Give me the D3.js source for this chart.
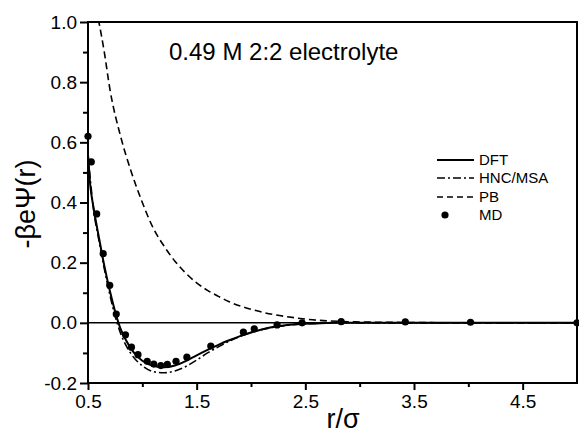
<!DOCTYPE html>
<html>
<head>
<meta charset="utf-8">
<script src="https://cdn.jsdelivr.net/npm/d3@7"></script>
<style>
  body { margin: 0; background: #fff; }
  svg { display: block; font-family: "Liberation Sans", Arial, sans-serif; }
</style>
</head>
<body>
<svg width="579" height="433"></svg>
<script>
// r/sigma grid and curves
var dftR = [0.5, 0.52, 0.55, 0.6, 0.65, 0.7, 0.75, 0.8, 0.85, 0.9, 0.95, 1.0, 1.1, 1.2, 1.3, 1.4, 1.5, 1.6, 1.7, 1.8, 1.9, 2.0, 2.1, 2.2, 2.3, 2.4, 2.6, 2.8, 3.5, 5.0];
var dftV = [0.56, 0.46, 0.385, 0.285, 0.19, 0.108, 0.037, -0.02, -0.058, -0.088, -0.11, -0.126, -0.143, -0.148, -0.142, -0.127, -0.108, -0.09, -0.073, -0.058, -0.044, -0.032, -0.022, -0.014, -0.009, -0.005, -0.002, 0, 0, 0];

var hncR = [0.5, 0.55, 0.6, 0.65, 0.7, 0.75, 0.8, 0.85, 0.9, 1.0, 1.1, 1.2, 1.3, 1.4, 1.5, 1.6, 1.7, 1.8, 1.9, 2.0, 2.2, 2.4, 2.6, 2.8, 3.0, 5.0];
var hncV = [0.56, 0.38, 0.275, 0.18, 0.095, 0.022, -0.035, -0.075, -0.105, -0.143, -0.162, -0.166, -0.16, -0.145, -0.124, -0.1, -0.08, -0.061, -0.045, -0.032, -0.015, -0.006, -0.002, 0.001, 0, 0];

var pbR = [0.595, 0.65, 0.7, 0.8, 0.9, 1.0, 1.1, 1.2, 1.3, 1.4, 1.5, 1.6, 1.7, 1.8, 2.0, 2.2, 2.4, 2.6, 2.8, 3.0, 3.5, 4.0, 5.0];
var pbV = [1.01, 0.9, 0.78, 0.62, 0.5, 0.4, 0.315, 0.255, 0.205, 0.165, 0.133, 0.108, 0.088, 0.07, 0.045, 0.028, 0.017, 0.009, 0.005, 0.003, 0.001, 0, 0];

var mdR = [0.5, 0.53, 0.58, 0.64, 0.7, 0.76, 0.845, 0.9, 0.96, 1.045, 1.105, 1.17, 1.23, 1.31, 1.41, 1.63, 1.93, 2.03, 2.24, 2.47, 2.83, 3.42, 4.02, 5.0];
var mdV = [0.62, 0.535, 0.362, 0.23, 0.125, 0.029, -0.04, -0.081, -0.106, -0.128, -0.137, -0.142, -0.138, -0.128, -0.114, -0.077, -0.031, -0.02, -0.007, 0.0, 0.004, 0.003, 0.002, 0.0];

var xMajor = [0.5, 1.5, 2.5, 3.5, 4.5];
var xMinor = [1.0, 2.0, 3.0, 4.0];
var yMajor = [-0.2, 0.0, 0.2, 0.4, 0.6, 0.8, 1.0];
var yMinor = [-0.1, 0.1, 0.3, 0.5, 0.7, 0.9];

var legendNames = ["DFT", "HNC/MSA", "PB", "MD"];

var svg = d3.select("svg");
var pLeft = 88, pRight = 577, pTop = 22, pBottom = 383;

var x = d3.scaleLinear().domain([0.5, 5.0]).range([pLeft, pRight]);
var y = d3.scaleLinear().domain([-0.2, 1.0]).range([pBottom, pTop]);

svg.append("clipPath").attr("id", "clip").append("rect")
  .attr("x", pLeft).attr("y", pTop).attr("width", pRight - pLeft).attr("height", pBottom - pTop);

var plot = svg.append("g").attr("clip-path", "url(#clip)");

// zero line
plot.append("line")
  .attr("x1", pLeft).attr("x2", pRight)
  .attr("y1", y(0)).attr("y2", y(0))
  .attr("stroke", "#000").attr("stroke-width", 1.5);

function zip(rs, vs) { return rs.map(function(r, i) { return [r, vs[i]]; }); }

var line = d3.line()
  .x(function(d) { return x(d[0]); })
  .y(function(d) { return y(d[1]); })
  .curve(d3.curveMonotoneX);

plot.append("path").datum(zip(pbR, pbV)).attr("d", line)
  .attr("fill", "none").attr("stroke", "#000").attr("stroke-width", 1.6)
  .attr("stroke-dasharray", "7,4");

plot.append("path").datum(zip(hncR, hncV)).attr("d", line)
  .attr("fill", "none").attr("stroke", "#000").attr("stroke-width", 1.6)
  .attr("stroke-dasharray", "8,3,2,3");

plot.append("path").datum(zip(dftR, dftV)).attr("d", line)
  .attr("fill", "none").attr("stroke", "#000").attr("stroke-width", 2);

svg.selectAll(".md").data(zip(mdR, mdV)).enter().append("circle")
  .attr("class", "md")
  .attr("cx", function(d) { return x(d[0]); })
  .attr("cy", function(d) { return y(d[1]); })
  .attr("r", 3.6).attr("fill", "#000");

// frame
svg.append("rect").attr("x", pLeft).attr("y", pTop)
  .attr("width", pRight - pLeft).attr("height", pBottom - pTop)
  .attr("fill", "none").attr("stroke", "#000").attr("stroke-width", 2);

// axes
svg.append("g").attr("transform", "translate(0," + pBottom + ")")
  .call(d3.axisBottom(x).tickValues(xMajor).tickSize(7).tickPadding(5)
    .tickFormat(function(d) { return d.toFixed(1); }));
svg.append("g").attr("transform", "translate(0," + pBottom + ")")
  .call(d3.axisBottom(x).tickValues(xMinor).tickSize(4).tickFormat(""));

svg.append("g").attr("transform", "translate(" + pLeft + ",0)")
  .call(d3.axisLeft(y).tickValues(yMajor).tickSize(8).tickPadding(3)
    .tickFormat(function(d) { return d.toFixed(1); }));
svg.append("g").attr("transform", "translate(" + pLeft + ",0)")
  .call(d3.axisLeft(y).tickValues(yMinor).tickSize(5).tickFormat(""));

svg.selectAll(".domain").remove();
svg.selectAll(".tick line").attr("stroke", "#000").attr("stroke-width", 2);
svg.selectAll(".tick text").attr("fill", "#000")
  .style("font-size", "19px").style("font-family", "Liberation Sans, Arial, sans-serif");

// labels
svg.append("text").attr("transform", "translate(35,204) rotate(-90)")
  .attr("text-anchor", "middle").style("font-size", "27px").text("-βeΨ(r)");
svg.append("text").attr("x", 343).attr("y", 428)
  .attr("text-anchor", "middle").style("font-size", "27px").text("r/σ");
svg.append("text").attr("x", 169).attr("y", 60)
  .style("font-size", "24px").text("0.49 M 2:2 electrolyte");

// legend
var legY = [160, 178, 197, 215];
var legDash = [null, "8,3,2,3", "6,4", null];
var leg = svg.append("g");
legendNames.forEach(function(name, i) {
  if (i < 3) {
    leg.append("line").attr("x1", 437).attr("x2", 474)
      .attr("y1", legY[i]).attr("y2", legY[i])
      .attr("stroke", "#000").attr("stroke-width", i === 0 ? 2 : 1.5)
      .attr("stroke-dasharray", legDash[i]);
  } else {
    leg.append("circle").attr("cx", 445).attr("cy", legY[i]).attr("r", 3.6).attr("fill", "#000");
  }
  leg.append("text").attr("x", 479).attr("y", legY[i] + 5)
    .style("font-size", "15px").text(name);
});
</script>
</body>
</html>
